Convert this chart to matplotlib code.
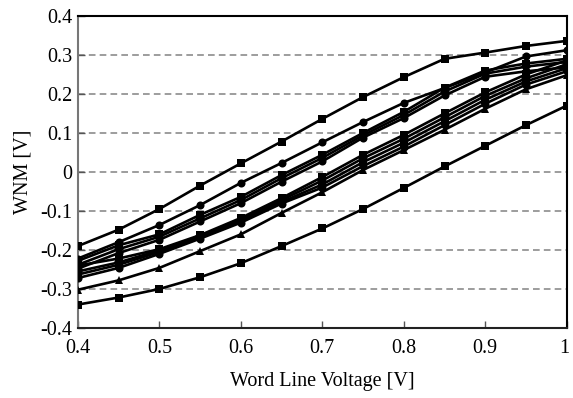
#WNM versus word line voltage, one curve per simulated cell

import matplotlib
matplotlib.use('Agg')
import matplotlib.pyplot as plt
from matplotlib.ticker import FuncFormatter
import matplotlib.transforms as mtransforms

plt.rcParams['font.family'] = ['Liberation Serif', 'DejaVu Serif']
plt.rcParams['axes.unicode_minus'] = False

# word line voltage sweep [V]
wl_voltage = [0.40, 0.45, 0.50, 0.55, 0.60, 0.65, 0.70, 0.75, 0.80, 0.85, 0.90, 0.95, 1.00]

# WNM [V], top to bottom
wnm_a = [-0.190, -0.148, -0.095, -0.035, 0.022, 0.078, 0.136, 0.192, 0.243, 0.290, 0.306, 0.323, 0.336]
wnm_b = [-0.222, -0.180, -0.136, -0.085, -0.028, 0.023, 0.076, 0.128, 0.177, 0.215, 0.255, 0.296, 0.312]
wnm_c = [-0.228, -0.188, -0.160, -0.110, -0.064, -0.008, 0.044, 0.100, 0.154, 0.216, 0.260, 0.278, 0.290]
wnm_d = [-0.238, -0.198, -0.166, -0.119, -0.072, -0.016, 0.036, 0.094, 0.146, 0.206, 0.252, 0.270, 0.282]
wnm_e = [-0.248, -0.208, -0.174, -0.127, -0.080, -0.025, 0.027, 0.088, 0.138, 0.196, 0.244, 0.258, 0.268]
wnm_f = [-0.240, -0.222, -0.198, -0.162, -0.118, -0.067, -0.013, 0.044, 0.095, 0.150, 0.204, 0.250, 0.286]
wnm_g = [-0.255, -0.232, -0.201, -0.165, -0.122, -0.072, -0.022, 0.035, 0.085, 0.140, 0.195, 0.240, 0.276]
wnm_h = [-0.263, -0.238, -0.205, -0.168, -0.126, -0.077, -0.032, 0.025, 0.075, 0.130, 0.185, 0.232, 0.266]
wnm_i = [-0.272, -0.246, -0.210, -0.171, -0.130, -0.081, -0.040, 0.015, 0.065, 0.120, 0.175, 0.224, 0.258]
wnm_j = [-0.302, -0.278, -0.246, -0.203, -0.160, -0.105, -0.052, 0.005, 0.056, 0.108, 0.162, 0.212, 0.248]
wnm_k = [-0.340, -0.322, -0.300, -0.270, -0.234, -0.190, -0.145, -0.095, -0.041, 0.014, 0.067, 0.120, 0.170]

curves = [wnm_a, wnm_b, wnm_c, wnm_d, wnm_e, wnm_f, wnm_g, wnm_h, wnm_i, wnm_j, wnm_k]
markers = ['s', 'o', 's', 'D', 'o', 's', 'D', 's', 'o', '^', 's']

fig = plt.figure(figsize=(5.73, 3.98), dpi=100)
ax = fig.add_axes([0.136, 0.176, 0.853, 0.784])

for k in range(len(curves)):
    ms = 5 if markers[k] == 'D' else 5.8
    ax.plot(wl_voltage, curves[k], color='black', linewidth=1.9,
            marker=markers[k], markersize=ms, markeredgewidth=0, zorder=3)

# dashed horizontal grid
for yg in [-0.3, -0.2, -0.1, 0, 0.1, 0.2, 0.3]:
    ax.axhline(yg, color='#8c8c8c', linestyle=(0, (4, 2.5)), linewidth=1.2, zorder=1)

ax.set_xlim(0.4, 1.0)
ax.set_ylim(-0.4, 0.4)
ax.set_xticks([0.4, 0.5, 0.6, 0.7, 0.8, 0.9, 1.0])
ax.set_yticks([-0.4, -0.3, -0.2, -0.1, 0, 0.1, 0.2, 0.3, 0.4])


def fmt(v, pos):
    v = round(v, 1)
    if v == 0:
        return '0'
    if v == 1:
        return '1'
    return '{:.1f}'.format(v)


ax.xaxis.set_major_formatter(FuncFormatter(fmt))
ax.yaxis.set_major_formatter(FuncFormatter(fmt))
ax.tick_params(direction='in', length=5, width=1, labelsize=14.5, color='#555555')
ax.tick_params(axis='x', pad=8)
ax.tick_params(axis='y', pad=4)

# keep the "1" inside the figure
last = ax.get_xticklabels()[-1]
last.set_transform(last.get_transform() + mtransforms.ScaledTranslation(-2 / 100, 0, fig.dpi_scale_trans))

for s in ax.spines.values():
    s.set_linewidth(1.5)
    s.set_color('black')
ax.spines['left'].set_color('#777777')
ax.spines['bottom'].set_color('#222222')

ax.set_xlabel('Word Line Voltage [V]', fontsize=14.5, labelpad=10)
ax.set_ylabel('WNM [V]', fontsize=14.5, labelpad=6)

plt.savefig('out.png', dpi=100)
plt.close()
